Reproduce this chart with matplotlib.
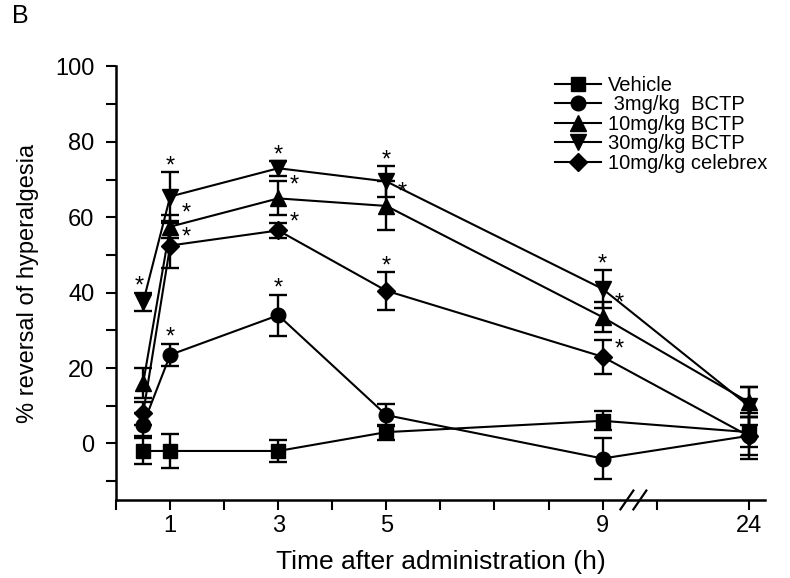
import matplotlib
matplotlib.use("Agg")
import matplotlib.pyplot as plt
from matplotlib.lines import Line2D

plt.rcParams["font.family"] = ["Liberation Sans", "DejaVu Sans"]

# time points (h); 24 h sits after the axis break
times = [0.5, 1, 3, 5, 9, 24]
BREAK_POS = 11.7  # plotted position of the 24 h point

series_names = ["Vehicle", " 3mg/kg  BCTP", "10mg/kg BCTP", "30mg/kg BCTP", "10mg/kg celebrex"]
series_markers = ["s", "o", "^", "v", "D"]

vehicle = [-2, -2, -2, 3, 6, 3]
vehicle_err = [3.5, 4.5, 3, 2, 2.5, 4]
bctp3 = [5, 23.5, 34, 7.5, -4, 2]
bctp3_err = [3, 3, 5.5, 3, 5.5, 5]
bctp10 = [16, 57.5, 65, 63, 33.5, 11]
bctp10_err = [4, 3, 4.5, 6.5, 4, 4]
bctp30 = [37.5, 65.5, 73, 69.5, 41, 10]
bctp30_err = [2.5, 6.5, 2, 4, 5, 5]
celebrex = [8, 52.5, 56.5, 40.5, 23, 2]
celebrex_err = [3, 6, 2, 5, 4.5, 6]

all_means = [vehicle, bctp3, bctp10, bctp30, celebrex]
all_errs = [vehicle_err, bctp3_err, bctp10_err, bctp30_err, celebrex_err]

# significance stars: (series index, time index, where)
star_series = [3, 3, 2, 4, 1, 3, 2, 4, 1, 3, 2, 4, 3, 2, 4]
star_time = [0, 1, 1, 1, 1, 2, 2, 2, 2, 3, 3, 3, 4, 4, 4]
star_side = ["above", "above", "right", "right", "above",
             "above", "right", "right", "above",
             "above", "right", "above",
             "above", "right", "right"]

xtick_times = [1, 3, 5, 9, 24]


def axis_pos(t):
    return t if t <= 10 else BREAK_POS


def marker_size(mk):
    return {"s": 10, "o": 10.5, "^": 11, "v": 11, "D": 9.5}[mk]


xs = [axis_pos(t) for t in times]

fig = plt.figure(figsize=(7.9, 5.78), dpi=100)
ax = fig.add_axes([0.147, 0.135, 0.821, 0.75])

for name, mk, ys, es in zip(series_names, series_markers, all_means, all_errs):
    ax.errorbar(xs, ys, yerr=es, fmt="-", marker=mk, color="black", ms=marker_size(mk),
                lw=1.5, elinewidth=1.7, capsize=6.5, capthick=1.7)

for si, ti, side in zip(star_series, star_time, star_side):
    y = all_means[si][ti]
    e = all_errs[si][ti]
    if side == "above":
        sx, sy = xs[ti] - (0.07 if ti == 0 else 0), y + e + 1.5
    else:
        sx, sy = xs[ti] + 0.3, y + (3.5 if si == 2 else 2.0)
    ax.text(sx, sy, "*", fontsize=17, ha="center", va="center", color="black")

ax.set_xlim(0, 12)
ax.set_ylim(-15, 100)
tick_pos = list(range(0, 11)) + [BREAK_POS]
tick_times = list(range(0, 11)) + [24]
ax.set_xticks(tick_pos)
ax.set_xticklabels([str(t) if t in xtick_times else "" for t in tick_times])
ax.set_yticks([0, 20, 40, 60, 80, 100])
ax.set_yticks(list(range(-10, 100, 20)), minor=True)
ax.tick_params(axis="both", which="both", direction="out", length=7.5, width=1.5,
               labelsize=17)
ax.tick_params(axis="y", pad=8)
ax.spines["top"].set_visible(False)
ax.spines["right"].set_visible(False)
ax.spines["left"].set_linewidth(1.8)
ax.spines["bottom"].set_linewidth(1.8)

# axis break marks
for dx in (-0.12, 0.12):
    bx = 9.57 + dx
    ax.plot([bx - 0.12, bx + 0.12], [-17.5, -12.5], color="black", lw=1.6, clip_on=False)

ax.set_xlabel("Time after administration (h)", fontsize=19, labelpad=9)
ax.set_ylabel("% reversal of hyperalgesia", fontsize=17, labelpad=12)

fig.text(0.015, 0.972, "B", fontsize=18, ha="left", va="center")

handles = [Line2D([0], [0], color="black", lw=1.5, marker=mk, ms=marker_size(mk))
           for mk in series_markers]
ax.legend(handles, series_names, loc="upper left", bbox_to_anchor=(0.69, 0.886),
          bbox_transform=fig.transFigure, frameon=False, fontsize=14.5,
          handlelength=2.3, handletextpad=0.3, labelspacing=0.02, borderpad=0.0)

fig.savefig("out.png", dpi=100)
